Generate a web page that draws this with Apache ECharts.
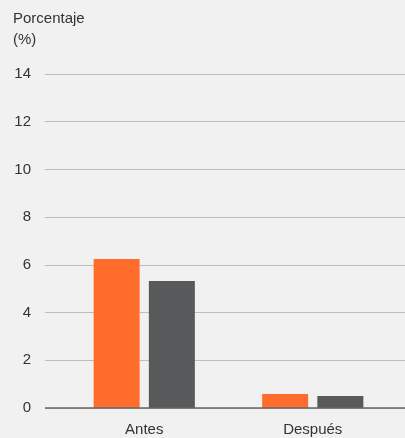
<!DOCTYPE html>
<html><head><meta charset="utf-8">
<script src="https://cdn.jsdelivr.net/npm/echarts@6/dist/echarts.min.js"></script>
<style>html,body{margin:0;padding:0;background:#f1f1f1;}#c{width:405px;height:438px;}</style>
</head><body><div id="c"></div>
<script>
const categories = ['Antes', 'Después'];
const seriesA = [6.25, 0.59];
const seriesB = [5.32, 0.50];
const yTicks = [0, 2, 4, 6, 8, 10, 12, 14];
const yName = 'Porcentaje\n(%)';

const font = '"Liberation Sans", Arial, Helvetica, sans-serif';
const chart = echarts.init(document.getElementById('c'));
chart.setOption({
  backgroundColor: '#f1f1f1',
  animation: false,
  title: { text: yName, left: 8, top: 3, textStyle: { fontFamily: font, fontSize: 15, fontWeight: 'normal', color: '#333', lineHeight: 21 } },
  grid: [
    { left: 45, right: 0, top: 74, bottom: 30 },
    { left: 60, right: 8, top: 74, bottom: 30 }
  ],
  xAxis: [
    { gridIndex: 0, type: 'category', data: categories, show: false },
    { gridIndex: 1, type: 'category', data: categories,
      axisLine: { show: false }, axisTick: { show: false },
      axisLabel: { fontFamily: font, fontSize: 15, color: '#333', margin: 14 } }
  ],
  yAxis: [
    { gridIndex: 0, type: 'value', min: yTicks[0], max: yTicks[yTicks.length-1], interval: 2,
      axisLine: { show: false }, axisTick: { show: false },
      axisLabel: { fontFamily: font, fontSize: 15, color: '#333', margin: 14 },
      splitLine: { lineStyle: { color: '#bdbdbd', width: 1 } } },
    { gridIndex: 1, type: 'value', min: yTicks[0], max: yTicks[yTicks.length-1], interval: 2, show: false, splitLine: { show: false } }
  ],
  series: [
    { type: 'bar', xAxisIndex: 1, yAxisIndex: 1, data: seriesA, barWidth: 46, barGap: '20%', itemStyle: { color: '#ff6c2c' } },
    { type: 'bar', xAxisIndex: 1, yAxisIndex: 1, data: seriesB, barWidth: 46, barGap: '20%', itemStyle: { color: '#58595b' } },
    { type: 'line', xAxisIndex: 0, yAxisIndex: 0, data: [], markLine: { silent: true, symbol: 'none', label: { show: false },
      lineStyle: { color: '#666', type: 'solid', width: 1.5 }, data: [{ yAxis: 0 }] } }
  ]
});
</script></body></html>
